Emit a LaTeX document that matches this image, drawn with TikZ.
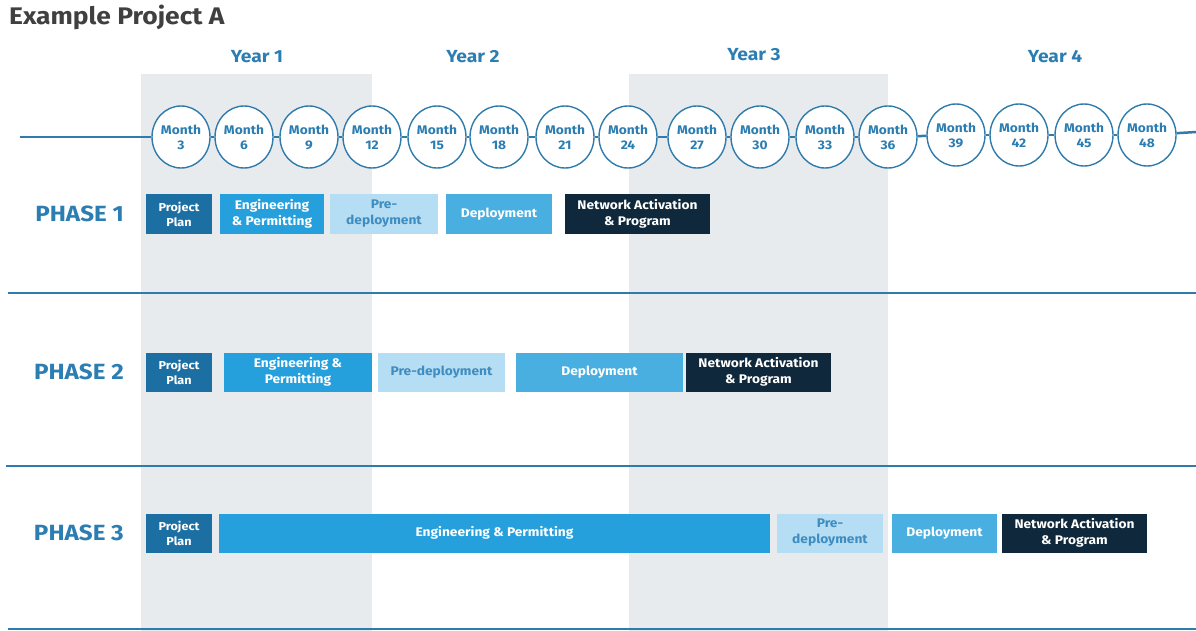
\documentclass[tikz,border=0pt]{standalone}
\usepackage{fontspec}
\setmainfont{Fira Sans}[FakeStretch=1.1]
\usetikzlibrary{positioning, shapes.geometric}
\definecolor{lineblue}{HTML}{2F7BAB}
\definecolor{txtblue}{HTML}{2B7DB2}
\definecolor{planblue}{HTML}{1C6FA2}
\definecolor{engblue}{HTML}{25A0DD}
\definecolor{preblue}{HTML}{B5DDF3}
\definecolor{pretext}{HTML}{3F8DC0}
\definecolor{depblue}{HTML}{49AEE0}
\definecolor{navy}{HTML}{10283B}
\definecolor{bandgray}{HTML}{E8EBEE}
\definecolor{titlegray}{HTML}{404040}
\tikzstyle{monthnode} = [ellipse, draw=lineblue, line width=1.4pt, fill=white, minimum width=58, minimum height=62, inner sep=0pt, align=center, text=txtblue, font=\bfseries\fontsize{12.5}{15}\selectfont]
\tikzstyle{yearlabel} = [text=txtblue, font=\bfseries\fontsize{17.5}{20}\selectfont]
\tikzstyle{phaselabel} = [text=txtblue, inner sep=0pt, font=\bfseries\fontsize{22}{26}\selectfont]
\tikzstyle{taskbar} = [rectangle, minimum height=39, inner sep=0pt, outer sep=0pt, align=center, text=white, font=\bfseries\fontsize{12.5}{16}\selectfont]
\tikzstyle{planbar} = [taskbar, fill=planblue, minimum width=66, font=\bfseries\fontsize{11.5}{15}\selectfont]
\tikzstyle{engbar} = [taskbar, fill=engblue]
\tikzstyle{prebar} = [taskbar, fill=preblue, text=pretext]
\tikzstyle{depbar} = [taskbar, fill=depblue]
\tikzstyle{netbar} = [taskbar, fill=navy, minimum width=145]
\tikzstyle{link} = [draw=lineblue, line width=2.5pt]
\tikzstyle{divider} = [draw=lineblue, line width=2.5pt]

\begin{document}
\begin{tikzpicture}[x=1pt, y=-1pt, node distance=8pt]
    \useasboundingbox (0,0) rectangle (1196,631);
    % year bands
    \fill [bandgray] (141,74) rectangle (372,631);
    \fill [bandgray] (629,74) rectangle (888,631);

    \node (title) [anchor=west, inner sep=0pt, text=titlegray, font=\bfseries\fontsize{24}{28}\selectfont] at (9,17) {Example Project A};

    \node (y1) [yearlabel] at (257,57) {Year 1};
    \node (y2) [yearlabel] at (473,57) {Year 2};
    \node (y3) [yearlabel] at (754,55) {Year 3};
    \node (y4) [yearlabel] at (1055,57) {Year 4};

    % timeline
    \coordinate (tlstart) at (20,137);
    \coordinate (tlend) at (1196,132);
    \foreach \m/\x/\y in {3/181/137, 6/244/137, 9/309/137, 12/372/137, 15/437/137, 18/499/137, 21/565/137, 24/628/137, 27/697/137, 30/760/137, 33/825/137, 36/888/137, 39/956/135, 42/1019/135, 45/1084/135, 48/1147/135}
        \node (m\m) [monthnode] at (\x,\y) {Month\\\m};
    \draw [link] (tlstart) -- (m3);
    \foreach \a/\b in {3/6, 6/9, 9/12, 12/15, 15/18, 18/21, 21/24, 24/27, 27/30, 30/33, 33/36, 36/39, 39/42, 42/45, 45/48}
        \draw [link] (m\a) -- (m\b);
    \draw [link] (m48) -- (tlend);

    % phase 1
    \node (pp1) [planbar] at (179,214) {Project\\Plan};
    \node (eng1) [engbar, minimum width=104, right=8pt of pp1] {Engineering\\\& Permitting};
    \node (pre1) [prebar, minimum width=108, right=6pt of eng1] {Pre-\\deployment};
    \node (dep1) [depbar, minimum width=106, right=8pt of pre1] {Deployment};
    \node (net1) [netbar, right=13pt of dep1] {Network Activation\\\& Program};
    \node (ph1) [phaselabel, left=22pt of pp1] {PHASE 1};

    \coordinate (d1l) at (8,293);
    \coordinate (d1r) at (1196,293);
    \draw [divider] (d1l) -- (d1r);

    % phase 2
    \node (pp2) [planbar] at (179,372) {Project\\Plan};
    \node (eng2) [engbar, minimum width=148, right=12pt of pp2] {Engineering \&\\Permitting};
    \node (pre2) [prebar, minimum width=127, right=6pt of eng2] {Pre-deployment};
    \node (dep2) [depbar, minimum width=167, right=11pt of pre2] {Deployment};
    \node (net2) [netbar, right=3pt of dep2] {Network Activation\\\& Program};
    \node (ph2) [phaselabel, left=22pt of pp2] {PHASE 2};

    \coordinate (d2l) at (6,466);
    \coordinate (d2r) at (1196,466);
    \draw [divider] (d2l) -- (d2r);

    % phase 3
    \node (pp3) [planbar] at (179,533) {Project\\Plan};
    \node (eng3) [engbar, minimum width=551, right=7pt of pp3] {Engineering \& Permitting};
    \node (pre3) [prebar, minimum width=106, right=7pt of eng3] {Pre-\\deployment};
    \node (dep3) [depbar, minimum width=105, right=9pt of pre3] {Deployment};
    \node (net3) [netbar, right=5pt of dep3] {Network Activation\\\& Program};
    \node (ph3) [phaselabel, left=22pt of pp3] {PHASE 3};

    \coordinate (d3l) at (8,629);
    \coordinate (d3r) at (1196,629);
    \draw [divider] (d3l) -- (d3r);
\end{tikzpicture}
\end{document}
